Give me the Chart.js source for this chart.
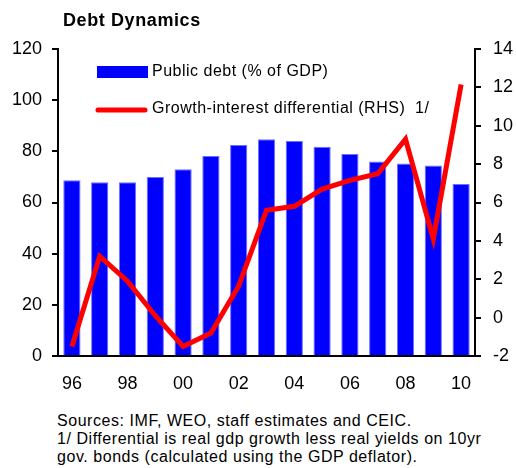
<!DOCTYPE html>
<html>
<head>
<meta charset="utf-8">
<title>Debt Dynamics</title>
<script src="https://cdn.jsdelivr.net/npm/chart.js@4.4.0/dist/chart.umd.min.js"></script>
<style>
  body { margin: 0; background: #fff; font-family: "Liberation Sans", Arial, sans-serif; color: #000; }
  #wrap { position: relative; width: 516px; height: 468px; overflow: hidden; }
  #title { position: absolute; left: 63px; top: 10px; font-weight: bold; font-size: 18px; letter-spacing: 0.6px; line-height: 21px; }
  #debtChart { position: absolute; left: 0; top: 0; }
  #notes { position: absolute; left: 57px; top: 412px; font-size: 16px; line-height: 18px; letter-spacing: 0.55px; white-space: nowrap; }
</style>
</head>
<body>
<div id="wrap">
  <canvas id="debtChart" width="516" height="400"></canvas>
  <div id="title">Debt Dynamics</div>
  <div id="notes">Sources: IMF, WEO, staff estimates and CEIC.<br>1/ Differential is real gdp growth less real yields on 10yr<br>gov. bonds (calculated using the GDP deflator).</div>
</div>
<script>
// Years 1996-2010, labelled with two digits
const years = ['96', '97', '98', '99', '00', '01', '02', '03', '04', '05', '06', '07', '08', '09', '10'];
// Public debt, % of GDP (left axis)
const publicDebt = [68.7, 67.9, 67.9, 70.0, 73.0, 78.2, 82.5, 84.7, 84.0, 81.8, 79.0, 76.0, 75.2, 74.5, 67.2];
// Growth-interest differential (right axis)
const growthDiff = [-1.5, 3.2, 1.9, 0.1, -1.5, -0.8, 1.65, 5.6, 5.8, 6.7, 7.15, 7.5, 9.3, 4.1, 12.15];
const leftTicks = { min: 0, max: 120, step: 20 };
const rightTicks = { min: -2, max: 14, step: 2 };

const tickFont = { family: '"Liberation Sans", Arial, sans-serif', size: 18 };

// Legend sits inside the plot, top-left
const insideLegend = {
    id: 'insideLegend',
    afterDraw(chart) {
        const ctx = chart.ctx;
        const ds = chart.data.datasets;
        ctx.save();
        ctx.font = '16px "Liberation Sans", Arial, sans-serif';
        ctx.letterSpacing = '0.5px';
        ctx.textBaseline = 'middle';

        ctx.fillStyle = ds[0].backgroundColor;
        ctx.fillRect(97, 66, 51, 12);
        ctx.fillStyle = '#000';
        ctx.fillText(ds[0].label, 152, 72);

        ctx.strokeStyle = ds[1].borderColor;
        ctx.lineWidth = 5;
        ctx.lineCap = 'round';
        ctx.beginPath();
        ctx.moveTo(98, 110);
        ctx.lineTo(145, 110);
        ctx.stroke();
        ctx.fillText(ds[1].label, 152, 109);
        ctx.restore();
    }
};

new Chart(document.getElementById('debtChart'), {
    data: {
        labels: years,
        datasets: [
            {
                type: 'bar',
                label: 'Public debt (% of GDP)',
                data: publicDebt,
                backgroundColor: '#0000ff',
                borderColor: '#7070ff',
                borderWidth: 1,
                categoryPercentage: 1,
                barPercentage: 0.62,
                yAxisID: 'y',
                order: 2
            },
            {
                type: 'line',
                label: 'Growth-interest differential (RHS)  1/',
                data: growthDiff,
                borderColor: '#ff0000',
                borderWidth: 5,
                pointRadius: 0,
                tension: 0,
                yAxisID: 'y1',
                order: 1
            }
        ]
    },
    options: {
        responsive: false,
        animation: false,
        layout: { padding: { top: 49, left: 0, right: 0, bottom: 0 } },
        plugins: {
            legend: { display: false },
            tooltip: { enabled: false }
        },
        scales: {
            x: {
                grid: { display: false },
                border: { display: true, color: '#000', width: 2 },
                ticks: {
                    autoSkip: false,
                    maxRotation: 0,
                    color: '#000',
                    font: tickFont,
                    padding: 9,
                    callback: (v, i) => (i % 2 === 0 ? years[i] : '')
                },
                afterFit: scale => { scale.height = 44; }
            },
            y: {
                position: 'left',
                min: leftTicks.min,
                max: leftTicks.max,
                grid: { drawOnChartArea: false, drawTicks: true, tickLength: 6, color: '#000', lineWidth: 2 },
                border: { display: true, color: '#000', width: 2 },
                ticks: { stepSize: leftTicks.step, color: '#000', font: tickFont, padding: 10 },
                afterFit: scale => { scale.width = 58; }
            },
            y1: {
                position: 'right',
                min: rightTicks.min,
                max: rightTicks.max,
                grid: { drawOnChartArea: false, drawTicks: true, tickLength: 6, color: '#000', lineWidth: 2 },
                border: { display: true, color: '#000', width: 2 },
                ticks: { stepSize: rightTicks.step, color: '#000', font: tickFont, padding: 12 },
                afterFit: scale => { scale.width = 41; }
            }
        }
    },
    plugins: [insideLegend]
});
</script>
</body>
</html>
